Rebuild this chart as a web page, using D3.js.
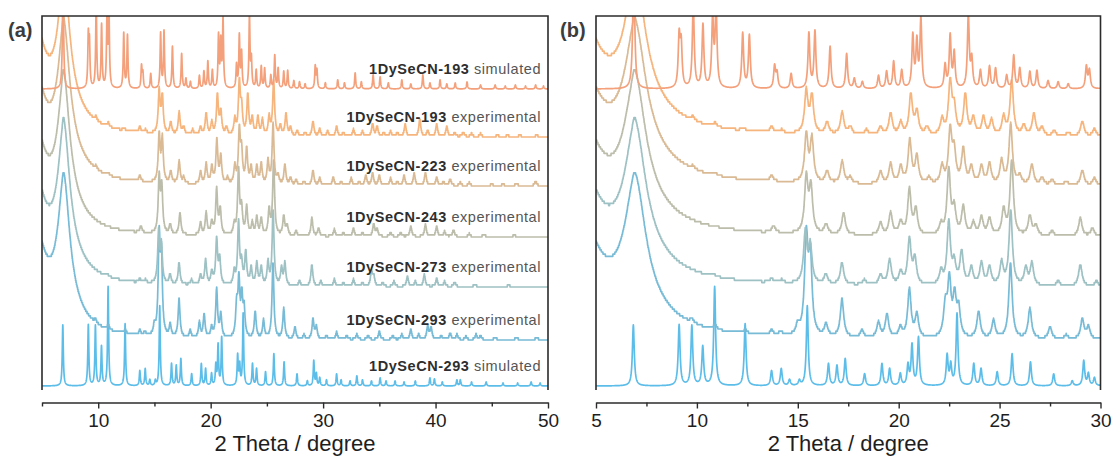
<!DOCTYPE html>
<html>
<head>
<meta charset="utf-8">
<script src="https://cdn.jsdelivr.net/npm/d3@7"></script>
<style>
  html, body { margin: 0; padding: 0; background: #ffffff; }
  svg { display: block; font-family: "Liberation Sans", Arial, sans-serif; }
</style>
</head>
<body>
<svg id="chart" width="1115" height="456"></svg>
<script>
// ---------------------------------------------------------------------------
// Powder XRD patterns of 1DySeCN, stacked from 293 K (bottom) to 193 K (top).
// Each pattern is listed as reflections: [2theta (deg), intensity (a.u.), hwhm (deg, optional)].
// ---------------------------------------------------------------------------

const sampleNames = ["1DySeCN-193", "1DySeCN-193", "1DySeCN-223", "1DySeCN-243",
                     "1DySeCN-273", "1DySeCN-293", "1DySeCN-293"];
const sampleKinds = ["simulated", "experimental", "experimental", "experimental",
                     "experimental", "experimental", "simulated"];
// vertical stacking offset of each pattern (a.u.)
const stackOffsets = [301, 253, 204, 153, 103, 50, 4];

// amorphous / low-angle scattering of the measured samples
const humpExp193 = [[4.0, 129, 1.24], [6.95, 115, 0.58], [7.0, 28, 1.6]];
const humpExp223 = [[4.0, 129, 1.24], [6.95, 112, 0.6], [7.0, 30, 1.6]];
const humpExp243 = [[4.0, 127, 1.24], [6.95, 113, 0.6], [7.0, 28, 1.6]];
const humpExp273 = [[4.0, 127, 1.24], [6.95, 115, 0.6], [7.0, 28, 1.6]];
const humpExp293 = [[4.0, 129, 1.24], [6.95, 115, 0.6], [7.0, 28, 1.6]];

const peaksSim193 = [
  [6.87,130],[9.12,50],[9.22,42],[9.82,85],[10.3,63],[10.78,68],[10.95,80],[12.27,55],[12.6,53],
  [13.85,22],[13.97,15],[14.67,15],[15.55,55],[15.85,57],[16.6,42],[17.42,35],[17.8,10],[18.2,7],
  [19.0,13],[19.4,17],[19.75,27],[20.15,18],[20.7,52],[20.9,45],[21.1,68],[22.3,23],[22.55,52],
  [22.75,35],[23.45,72],[23.62,28],[24.05,18],[24.5,22],[24.8,20],[25.35,13],[25.7,33],[26.0,20],
  [26.5,17],[26.85,18],[27.4,8],[27.9,7],[28.4,5],[29.3,22],[29.45,18],[30.2,6],[31.3,9],[31.9,6],
  [32.85,16],[33.4,7],[34.45,14],[35.07,12],[35.8,6],[37.0,9],[37.8,5],[38.87,14],[39.5,6],
  [40.4,9],[41.0,5],[41.75,6],[42.8,7],[44.0,4],[45.3,4],[46.2,3],[47.1,4],[48.0,3],[48.9,4],[49.6,3]
];
const peaksExp193 = [
  [6.9,8],[9.8,4],[10.9,4],[12.3,3],[13.7,6],[14.2,3],[15.42,42],[15.7,37],[16.45,12],[17.2,22],
  [17.6,8],[18.4,5],[19.1,8],[19.6,22],[20.1,12],[20.6,40],[20.9,23],[21.4,8],[22.15,15],[22.55,52],
  [22.75,25],[23.3,40],[23.7,17],[24.2,18],[24.6,15],[25.2,18],[25.6,55],[26.2,10],[26.7,22],
  [27.1,8],[27.7,5],[28.4,4],[29.1,15],[29.7,7],[30.4,5],[31.2,10],[31.8,4],[32.7,7],[33.5,5],
  [34.4,13],[34.8,10],[35.4,4],[36.0,5],[36.6,4],[37.3,12],[38.6,18],[39.3,6],[40.1,12],[41.0,10],
  [41.7,4],[42.46,5],[43.2,3],[44.0,3],[45.5,2],[46.4,2],[47.5,2],[49.0,2]
];
const peaksExp223 = [
  [6.9,8],[9.8,3],[10.9,3],[13.7,6],[15.42,47],[15.7,43],[16.45,12],[17.2,22],[17.6,6],[19.1,12],
  [19.6,20],[20.1,17],[20.55,43],[20.9,27],[21.5,6],[22.15,17],[22.55,53],[22.75,30],[23.2,35],
  [23.6,17],[24.1,18],[24.5,20],[25.1,23],[25.55,60],[26.0,8],[26.6,20],[27.1,7],[27.6,5],[28.3,4],
  [29.1,15],[29.7,7],[30.9,8],[31.6,4],[32.5,7],[33.2,4],[33.8,10],[34.4,12],[35.0,10],[36.0,7],
  [36.6,4],[37.2,10],[38.1,12],[39.1,13],[40.1,8],[40.7,4],[41.3,7],[42.2,3],[43.0,3],[45.0,2],
  [46.0,2],[47.2,3],[48.9,5]
];
const peaksExp243 = [
  [6.9,8],[13.8,7],[15.42,55],[15.65,45],[16.4,10],[17.27,22],[19.1,12],[19.6,22],[20.1,13],
  [20.53,45],[20.85,25],[22.1,10],[22.48,65],[22.75,25],[23.2,28],[23.7,12],[24.1,18],[24.5,17],
  [25.2,25],[25.6,75],[26.5,20],[26.8,10],[27.6,5],[29.0,18],[29.6,8],[31.0,7],[31.8,4],[32.7,8],
  [33.5,4],[34.5,13],[34.8,7],[36.0,4],[36.9,4],[37.8,10],[39.1,12],[40.1,10],[40.8,5],[41.6,7],
  [43.0,3],[44.3,3],[47.0,2]
];
const peaksExp273 = [
  [6.9,8],[10.8,3],[13.7,4],[14.2,3],[15.37,50],[15.62,37],[16.39,10],[17.19,22],[18.3,5],
  [19.1,10],[19.55,25],[20.1,13],[20.53,45],[20.8,25],[22.1,13],[22.48,62],[22.75,20],[23.12,33],
  [23.6,17],[24.1,22],[24.5,18],[25.1,22],[25.55,75],[26.3,17],[26.6,22],[27.9,5],[29.0,22],
  [29.8,5],[31.0,7],[31.8,4],[32.7,7],[33.5,4],[34.3,15],[34.5,10],[35.3,4],[36.3,5],[37.5,10],
  [38.2,5],[39.0,12],[40.1,8],[40.8,5],[41.7,5],[43.5,3],[46.5,2]
];
const peaksExp293 = [
  [6.9,6],[9.75,4],[10.9,5],[12.4,4],[13.7,5],[14.15,4],[15.0,10],[15.42,95],[15.62,75],[16.4,12],
  [17.19,38],[18.18,7],[19.0,15],[19.42,23],[20.08,10],[20.53,48],[20.9,23],[22.31,30],[22.51,55],
  [22.77,38],[22.97,27],[23.96,27],[24.7,18],[25.54,75],[26.5,30],[27.5,12],[28.3,4],[29.1,20],
  [29.4,12],[30.3,4],[31.2,7],[32.1,4],[33.0,5],[34.0,4],[35.0,8],[36.2,4],[37.0,5],[37.8,10],
  [38.5,5],[39.3,13],[39.6,12],[40.5,4],[41.3,7],[41.9,5],[42.7,3],[43.6,5],[44.0,4],[45.3,3],
  [47.2,3],[49.0,3]
];
const peaksSim293 = [
  [6.85,61],[9.12,61],[9.75,60],[10.29,39],[10.88,99],[12.39,62],[13.70,15],[14.18,17],[14.59,6],
  [15.08,5],[15.47,80],[16.52,22],[16.94,20],[17.35,27],[18.31,12],[19.17,22],[19.55,17],[20.08,12],
  [20.46,20],[20.66,40],[20.98,48],[22.40,30],[22.58,20],[22.89,72],[23.72,22],[24.08,17],[24.88,14],
  [25.62,32],[26.53,24],[27.68,12],[28.6,5],[29.17,25],[29.4,12],[29.7,8],[30.3,6],[31.2,12],
  [31.6,6],[32.4,5],[33.0,10],[33.5,6],[34.3,5],[35.07,8],[35.6,5],[36.4,5],[37.2,4],[38.2,5],
  [39.5,8],[39.9,7],[40.6,4],[41.9,6],[42.2,6],[43.2,4],[44.5,4],[46.0,3],[47.3,3],[48.5,4],[49.3,3]
];

const seriesPeaks = [peaksSim193, peaksExp193, peaksExp223, peaksExp243, peaksExp273, peaksExp293, peaksSim293];
const seriesHumps = [[], humpExp193, humpExp223, humpExp243, humpExp273, humpExp293, []];

// axis ticks of the full range (a) and the low-angle close-up (b)
const ticksA = [10, 20, 30, 40, 50];
const minorTicksA = [5, 15, 25, 35, 45];
const ticksB = [5, 10, 15, 20, 25, 30];
const minorTicksB = [7.5, 12.5, 17.5, 22.5, 27.5];
const axisTitle = "2 Theta / degree";

// ---------------------------------------------------------------------------
// styling
// ---------------------------------------------------------------------------
const seriesColors = ["#f3a07b", "#f6b57d", "#d9ba94", "#bcbdab", "#9ec1c4", "#78bbd6", "#5dbde9"];
const frameColor = "#2b2b2b";

const svg = d3.select("#chart");

// shared intensity scale (stacked)
const yTop = 16, yFrameBottom = 390, yAxis = 402.5;
const y = d3.scaleLinear().domain([0, 374]).range([yFrameBottom, yTop]);

// build a pattern from its reflections (Lorentzian line shapes)
function pattern(i, lo, hi) {
  const sim = sampleKinds[i] === "simulated";
  const defaultHw = sim ? 0.055 : 0.1;
  const refl = seriesPeaks[i].map(p => [p[0], p[1], p[2] || defaultHw]).concat(seriesHumps[i]);
  const step = 0.01;
  const n = Math.round((hi - lo) / step);
  const pts = [];
  for (let k = 0; k <= n; k++) {
    const t = lo + k * step;
    let v = 0;
    for (const [c, h, w] of refl) {
      const d = (t - c) / w;
      v += h / (1 + d * d);
    }
    // detector counts of the measured patterns are coarse
    if (!sim) v = Math.round(v / 2.2) * 2.2;
    pts.push([t, stackOffsets[i] + v]);
  }
  return pts;
}

const panels = [
  { key: "a", label: "(a)", labelX: 8, domain: [5, 50], range: [42, 548],
    ticks: ticksA, minor: minorTicksA, seriesLabels: true },
  { key: "b", label: "(b)", labelX: 560, domain: [5, 30], range: [596, 1100.5],
    ticks: ticksB, minor: minorTicksB, seriesLabels: false }
];

panels.forEach(p => {
  const x = d3.scaleLinear().domain(p.domain).range(p.range);
  const g = svg.append("g");

  g.append("clipPath").attr("id", "clip-" + p.key)
    .append("rect")
    .attr("x", p.range[0]).attr("y", yTop)
    .attr("width", p.range[1] - p.range[0]).attr("height", yAxis - yTop);

  const line = d3.line().x(d => x(d[0])).y(d => y(d[1]));
  const traces = g.append("g").attr("clip-path", `url(#clip-${p.key})`);

  // draw bottom pattern first so upper ones sit above
  for (let i = sampleNames.length - 1; i >= 0; i--) {
    traces.append("path")
      .datum(pattern(i, p.domain[0], p.domain[1]))
      .attr("d", line)
      .attr("fill", "none")
      .attr("stroke", seriesColors[i])
      .attr("stroke-width", 1.7)
      .attr("stroke-linejoin", "round");
  }

  // frame: left, top and right edges
  g.append("path")
    .attr("d", `M${p.range[0]},${yFrameBottom}V${yTop}H${p.range[1]}V${yFrameBottom}`)
    .attr("fill", "none").attr("stroke", frameColor).attr("stroke-width", 1.6);

  // bottom axis, offset below the frame
  const axisG = g.append("g").attr("transform", `translate(0,${yAxis})`);
  axisG.call(d3.axisBottom(x).tickValues(p.ticks).tickSize(6).tickSizeOuter(0)
    .tickPadding(5).tickFormat(d3.format("d")));
  axisG.append("g").call(d3.axisBottom(x).tickValues(p.minor).tickSize(4).tickFormat(""))
    .select(".domain").remove();
  axisG.selectAll(".domain").attr("stroke", frameColor).attr("stroke-width", 1.6);
  axisG.selectAll(".tick line").attr("stroke", frameColor).attr("stroke-width", 1.4);
  axisG.selectAll(".tick text")
    .attr("font-family", "Liberation Sans, Arial, sans-serif")
    .attr("font-size", 19).attr("fill", "#1e1e1e");

  g.append("text")
    .attr("x", (p.range[0] + p.range[1]) / 2).attr("y", 450.5)
    .attr("text-anchor", "middle")
    .attr("font-size", 22).attr("fill", "#1e1e1e")
    .text(axisTitle);

  g.append("text")
    .attr("x", p.labelX).attr("y", 37)
    .attr("font-size", 20).attr("font-weight", "bold").attr("fill", "#3c3c3c")
    .text(p.label);

  if (p.seriesLabels) {
    sampleNames.forEach((name, i) => {
      const t = g.append("text")
        .attr("x", 541).attr("y", y(stackOffsets[i]) - 15)
        .attr("text-anchor", "end")
        .attr("font-size", 14.5)
        .attr("letter-spacing", 0.55);
      t.append("tspan").attr("font-weight", "bold").attr("fill", "#2e2e2e").text(name);
      t.append("tspan").attr("fill", "#555555").text(" " + sampleKinds[i]);
    });
  }
});
</script>
</body>
</html>
